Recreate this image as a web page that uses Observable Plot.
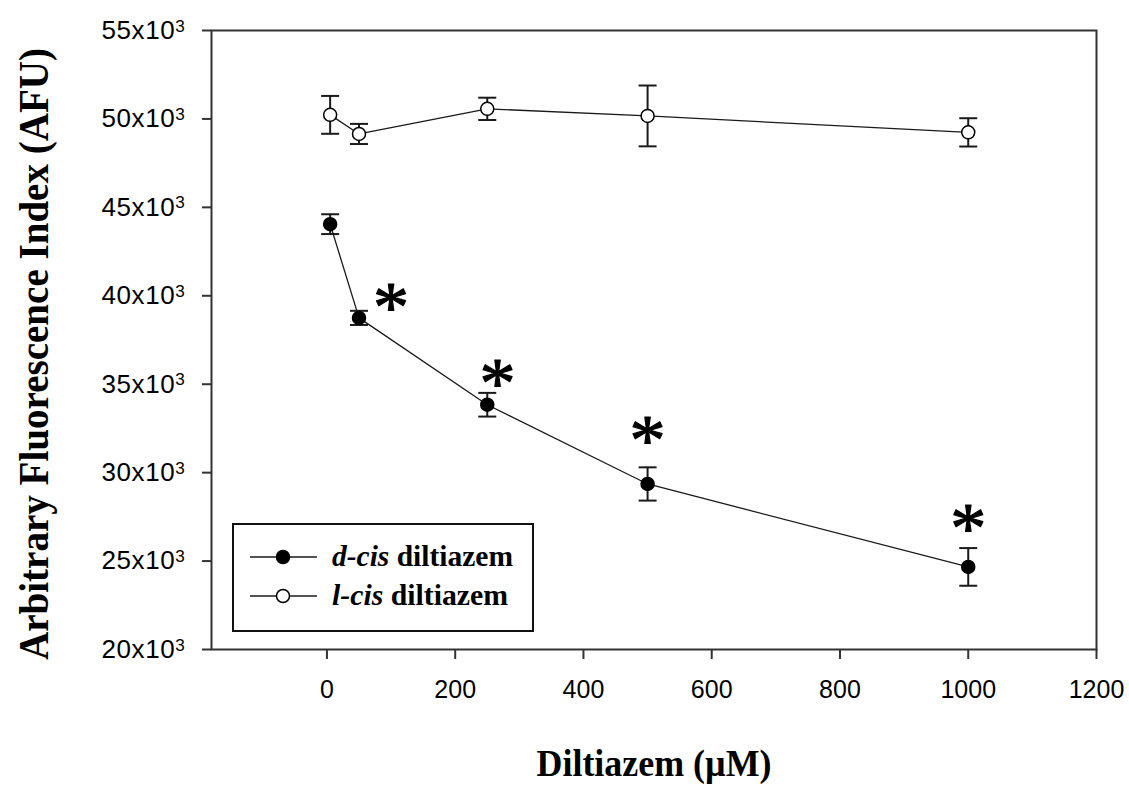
<!DOCTYPE html>
<html><head><meta charset="utf-8">
<script src="https://cdn.jsdelivr.net/npm/d3@7"></script>
<script src="https://cdn.jsdelivr.net/npm/@observablehq/plot@0.6"></script>
<style>body{margin:0;background:#fff;} #chart svg{display:block;}</style>
</head><body><div id="chart"></div>
<script>
// Diltiazem concentration (µM)
const conc = [5, 50, 250, 500, 1000];
// d-cis diltiazem: mean and error (AFU)
const dcisMean = [44050, 38750, 33840, 29360, 24670];
const dcisErr  = [560, 400, 670, 940, 1065];
// l-cis diltiazem: mean and error (AFU)
const lcisMean = [50230, 49150, 50570, 50170, 49240];
const lcisErr  = [1070, 570, 630, 1720, 800];
// significance asterisks (annotation positions)
const starX = [100, 266, 500, 1000];
const starY = [39990, 35680, 32450, 27520];
// axes
const xTicks = [0, 200, 400, 600, 800, 1000, 1200];
const yTicks = [20000, 25000, 30000, 35000, 40000, 45000, 50000, 55000];
const seriesNames = ["d-cis", "l-cis"];
const xTitle = "Diltiazem (µM)";
const yTitle = "Arbitrary Fluorescence Index (AFU)";

const rows = conc.flatMap((c, i) => [
  {series: seriesNames[0], x: c, y: dcisMean[i], e: dcisErr[i]},
  {series: seriesNames[1], x: c, y: lcisMean[i], e: lcisErr[i]}
]);
const stars = starX.map((x, i) => ({x, y: starY[i]}));

const capSymbol = {
  draw(ctx, size) {
    const r = Math.sqrt(size / Math.PI);
    ctx.moveTo(-r, 0); ctx.lineTo(r, 0);
  }
};

const ink = "#1a1a1a";
const serif = "'Liberation Serif', 'Times New Roman', serif";
const plot = Plot.plot({
  width: 1129, height: 787,
  marginLeft: 211, marginRight: 33, marginTop: 30, marginBottom: 138,
  x: {domain: [-180, 1200]},
  y: {domain: [20000, 55000]},
  style: {fontFamily: "'Liberation Sans', Arial, sans-serif", background: "#fff", color: "#000"},
  marks: [
    Plot.axisX({ticks: xTicks, tickSize: 10, tickPadding: 21, fontSize: 25, stroke: "#333", strokeWidth: 2, label: null, tickFormat: d => String(d)}),
    Plot.axisY({ticks: yTicks, tickSize: 9, tickPadding: 17, fontSize: 26, stroke: "#333", strokeWidth: 2, label: null, tickFormat: d => `${d / 1000}x10`}),
    Plot.frame({stroke: "#333", strokeWidth: 2}),
    Plot.ruleX(rows, {x: "x", y1: d => d.y - d.e, y2: d => d.y + d.e, stroke: ink, strokeWidth: 2}),
    Plot.dot(rows, {x: "x", y: d => d.y - d.e, symbol: capSymbol, r: 9, stroke: ink, strokeWidth: 2, fill: "none"}),
    Plot.dot(rows, {x: "x", y: d => d.y + d.e, symbol: capSymbol, r: 9, stroke: ink, strokeWidth: 2, fill: "none"}),
    Plot.line(rows, {x: "x", y: "y", z: "series", stroke: ink, strokeWidth: 1.3}),
    Plot.dot(rows, {x: "x", y: "y", r: 6.5, stroke: "#000", strokeWidth: 1.5,
      fill: d => d.series === seriesNames[0] ? "#000" : "#fff"}),
    Plot.text(stars, {x: "x", y: "y", text: () => "*", fontSize: 72, fontWeight: "normal",
      fontFamily: serif, fill: "#000", stroke: "#000", strokeWidth: 1.2, dy: 12})
  ]
});
document.getElementById("chart").appendChild(plot);

const svg = d3.select(plot);
// superscript exponent on y tick labels
svg.selectAll('g[aria-label="y-axis tick label"] text').each(function() {
  d3.select(this).attr("letter-spacing", 0.6)
    .append("tspan").attr("dy", "-0.42em").attr("font-size", "0.66em").text("3");
});
// y title
svg.append("text")
  .attr("transform", "translate(48,354) rotate(-90)")
  .attr("text-anchor", "middle")
  .attr("font-family", serif).attr("font-weight", "bold").attr("font-size", 42)
  .attr("textLength", 612).attr("lengthAdjust", "spacingAndGlyphs")
  .attr("fill", "#000")
  .text(yTitle);
// x title
svg.append("text")
  .attr("x", 654).attr("y", 776)
  .attr("text-anchor", "middle")
  .attr("font-family", serif).attr("font-weight", "bold").attr("font-size", 38)
  .attr("textLength", 235).attr("lengthAdjust", "spacingAndGlyphs")
  .attr("fill", "#000")
  .text(xTitle);

// legend
const lg = svg.append("g").attr("font-family", serif).attr("font-weight", "bold")
  .attr("font-size", 29).attr("text-anchor", "start");
lg.append("rect").attr("x", 233).attr("y", 524).attr("width", 300).attr("height", 107)
  .attr("fill", "#fff").attr("stroke", "#111").attr("stroke-width", 2);
const legendLen = [181, 176];
seriesNames.forEach((name, i) => {
  const cy = 557 + i * 39;
  lg.append("line").attr("x1", 250).attr("x2", 317).attr("y1", cy).attr("y2", cy)
    .attr("stroke", ink).attr("stroke-width", 1.3);
  lg.append("circle").attr("cx", 283).attr("cy", cy).attr("r", 6.5)
    .attr("fill", i === 0 ? "#000" : "#fff").attr("stroke", "#000").attr("stroke-width", 1.5);
  const t = lg.append("text").attr("x", 332).attr("y", cy + 9).attr("fill", "#000")
    .attr("text-anchor", "start")
    .attr("textLength", legendLen[i]).attr("lengthAdjust", "spacingAndGlyphs");
  t.append("tspan").attr("font-style", "italic").text(name);
  t.append("tspan").text(" diltiazem");
});
</script>
</body></html>
